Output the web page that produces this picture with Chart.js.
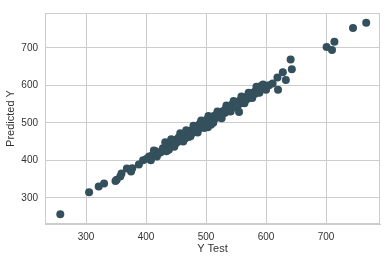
<!DOCTYPE html>
<html>
<head>
<meta charset="utf-8">
<script src="https://cdn.jsdelivr.net/npm/chart.js@4"></script>
<style>
  html, body { margin: 0; padding: 0; background: #fff; }
  #wrap { width: 387px; height: 261px; position: relative; }
</style>
</head>
<body>
<div id="wrap"><canvas id="grafico"></canvas></div>
<script>
// Datos (Y Test vs Predicted Y)
const yTest = [
  257, 305, 321, 330, 349, 351, 357, 359, 368, 375, 377, 388, 395, 401, 405, 408,
  410, 413, 416, 420, 424, 428, 431, 432, 436, 438, 440, 441, 444, 446, 448, 450,
  452, 454, 456, 458, 460, 461, 463, 465, 466, 468, 470, 471, 473, 475, 477, 478,
  480, 482, 483, 485, 487, 488, 490, 491, 493, 495, 496, 498, 499, 501, 502, 503,
  505, 506, 508, 509, 511, 513, 514, 516, 518, 520, 521, 523, 525, 527, 528, 530,
  532, 533, 535, 537, 538, 540, 542, 543, 545, 547, 548, 550, 551, 553, 555, 555,
  557, 558, 560, 562, 563, 565, 566, 568, 570, 572, 574, 576, 578, 580, 582, 583,
  585, 587, 588, 590, 592, 594, 596, 598, 600, 605, 611, 619, 620, 628, 633, 641,
  643, 701, 710, 714, 745, 767,
  418, 434, 442, 447, 457, 462, 467, 474, 479, 486, 492, 497, 504, 512, 519, 526,
  534, 541, 546, 552, 559, 564, 571, 577, 584, 589, 595
];
const predictedY = [
  256, 315, 330, 338, 345, 348, 357, 365, 378, 370, 379, 389, 400, 404, 410, 400,
  413, 426, 424, 418, 421, 432, 430, 448, 441, 428, 438, 450, 445, 452, 442, 455,
  448, 460, 452, 462, 455, 470, 463, 458, 472, 466, 474, 462, 478, 470, 481, 474,
  478, 486, 476, 490, 482, 495, 488, 500, 492, 502, 496, 505, 498, 508, 500, 488,
  512, 504, 495, 515, 508, 518, 510, 520, 514, 522, 516, 526, 520, 530, 524, 532,
  527, 538, 533, 540, 535, 545, 538, 548, 542, 550, 546, 552, 545, 556, 529, 550,
  560, 553, 562, 557, 566, 560, 568, 563, 572, 566, 575, 570, 580, 576, 584, 579,
  590, 585, 596, 590, 598, 593, 596, 592, 588, 600, 605, 621, 588, 635, 614, 669,
  643, 702, 694, 716, 753, 767,
  410, 424, 456, 436, 472, 450, 480, 464, 492, 474, 506, 486, 518, 500, 530, 512,
  546, 530, 558, 540, 570, 552, 580, 566, 596, 580, 602
];
const xTicks = [300, 400, 500, 600, 700];
const yTicks = [300, 400, 500, 600, 700];

const puntos = yTest.map((x, i) => ({ x: x, y: predictedY[i] }));

// Marco gris alrededor del area del grafico
const marco = {
  id: 'marco',
  afterDraw(chart) {
    const a = chart.chartArea;
    const c = chart.ctx;
    c.save();
    c.strokeStyle = '#cccccc';
    c.lineWidth = 1;
    c.strokeRect(Math.round(a.left) + 0.5, Math.round(a.top) + 0.5,
      Math.round(a.right - a.left) - 1, Math.round(a.bottom - a.top) - 1);
    c.restore();
  }
};

const fuente = "'Liberation Sans', Arial, sans-serif";

new Chart(document.getElementById('grafico'), {
  type: 'scatter',
  data: {
    datasets: [{
      data: puntos,
      backgroundColor: '#34505c',
      borderWidth: 0,
      pointRadius: 4,
      pointHoverRadius: 4
    }]
  },
  options: {
    responsive: true,
    maintainAspectRatio: false,
    animation: false,
    layout: { padding: { top: 6, right: 7, left: 0, bottom: 0 } },
    plugins: { legend: { display: false }, tooltip: { enabled: false } },
    scales: {
      x: {
        type: 'linear',
        min: 231.5,
        max: 790,
        afterBuildTicks: s => { s.ticks = xTicks.map(v => ({ value: v })); },
        afterFit: s => { s.height = 37; },
        grid: { color: '#cccccc', drawTicks: false },
        border: { color: '#cccccc' },
        ticks: { color: '#333', padding: 7, font: { family: fuente, size: 10 } },
        title: {
          display: true, text: 'Y Test', color: '#333',
          font: { family: fuente, size: 11 }, padding: { top: 0, bottom: 5 }
        }
      },
      y: {
        type: 'linear',
        min: 230,
        max: 793,
        afterBuildTicks: s => { s.ticks = yTicks.map(v => ({ value: v })); },
        afterFit: s => { s.width = 45; },
        grid: { color: '#cccccc', drawTicks: false },
        border: { color: '#cccccc' },
        ticks: { color: '#333', padding: 7, font: { family: fuente, size: 10 } },
        title: {
          display: true, text: 'Predicted Y', color: '#333',
          font: { family: fuente, size: 11 }, padding: { top: 4, bottom: 0 }
        }
      }
    }
  },
  plugins: [marco]
});
</script>
</body>
</html>
